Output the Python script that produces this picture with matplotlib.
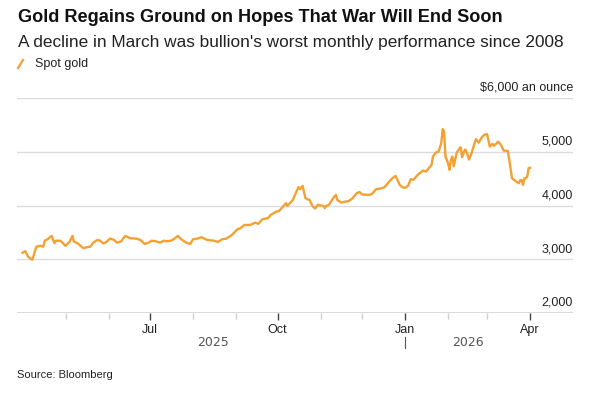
import numpy as np
import pandas as pd
import matplotlib.pyplot as plt
import matplotlib.dates as mdates
import matplotlib.ticker as mticker
import matplotlib.transforms as mtransforms

plt.rcParams['font.family'] = ['Liberation Sans', 'DejaVu Sans']

# Spot gold, $ per ounce
dates = [
    "2025-03-31", "2025-04-02", "2025-04-04", "2025-04-07", "2025-04-10", "2025-04-13",
    "2025-04-15", "2025-04-16", "2025-04-18", "2025-04-21", "2025-04-23", "2025-04-24",
    "2025-04-27", "2025-04-28", "2025-05-01", "2025-05-04", "2025-05-06", "2025-05-07",
    "2025-05-10", "2025-05-14", "2025-05-16", "2025-05-19", "2025-05-21", "2025-05-24",
    "2025-05-26", "2025-05-28", "2025-05-30", "2025-06-02", "2025-06-05", "2025-06-07",
    "2025-06-10", "2025-06-13", "2025-06-17", "2025-06-21", "2025-06-24", "2025-06-27",
    "2025-06-30", "2025-07-02", "2025-07-05", "2025-07-08", "2025-07-11", "2025-07-13",
    "2025-07-16", "2025-07-18", "2025-07-21", "2025-07-24", "2025-07-27", "2025-07-30",
    "2025-08-01", "2025-08-04", "2025-08-07", "2025-08-11", "2025-08-16", "2025-08-19",
    "2025-08-22", "2025-08-25", "2025-08-29", "2025-09-02", "2025-09-04", "2025-09-07",
    "2025-09-11", "2025-09-15", "2025-09-17", "2025-09-20", "2025-09-24", "2025-09-26",
    "2025-09-30", "2025-10-02", "2025-10-07", "2025-10-08", "2025-10-12", "2025-10-14",
    "2025-10-16", "2025-10-17", "2025-10-19", "2025-10-21", "2025-10-23", "2025-10-24",
    "2025-10-26", "2025-10-28", "2025-10-30", "2025-11-01", "2025-11-03", "2025-11-04",
    "2025-11-05", "2025-11-07", "2025-11-10", "2025-11-12", "2025-11-13", "2025-11-16",
    "2025-11-18", "2025-11-21", "2025-11-23", "2025-11-24", "2025-11-27", "2025-11-29",
    "2025-12-01", "2025-12-06", "2025-12-08", "2025-12-11", "2025-12-15", "2025-12-17",
    "2025-12-19", "2025-12-22", "2025-12-25", "2025-12-28", "2025-12-30", "2026-01-01",
    "2026-01-03", "2026-01-05", "2026-01-07", "2026-01-10", "2026-01-12", "2026-01-14",
    "2026-01-16", "2026-01-18", "2026-01-20", "2026-01-21", "2026-01-23", "2026-01-25",
    "2026-01-27", "2026-01-28", "2026-01-29", "2026-01-30", "2026-01-31", "2026-02-01",
    "2026-02-02", "2026-02-03", "2026-02-04", "2026-02-05", "2026-02-07", "2026-02-08",
    "2026-02-10", "2026-02-11", "2026-02-13", "2026-02-14", "2026-02-16", "2026-02-18",
    "2026-02-20", "2026-02-21", "2026-02-23", "2026-02-25", "2026-02-27", "2026-03-01",
    "2026-03-03", "2026-03-05", "2026-03-06", "2026-03-08", "2026-03-09", "2026-03-11",
    "2026-03-13", "2026-03-16", "2026-03-17", "2026-03-19", "2026-03-22", "2026-03-24",
    "2026-03-25", "2026-03-26", "2026-03-27", "2026-03-28", "2026-03-29", "2026-03-30",
    "2026-03-31", "2026-04-01",
]
prices = [
    3120, 3150, 3048, 2990, 3235, 3250,
    3235, 3345, 3372, 3434, 3298, 3345,
    3345, 3330, 3247, 3330, 3434, 3330,
    3290, 3204, 3222, 3235, 3310, 3360,
    3345, 3298, 3310, 3384, 3360, 3310,
    3330, 3434, 3390, 3384, 3360, 3285,
    3310, 3345, 3335, 3310, 3345, 3335,
    3345, 3372, 3434, 3360, 3310, 3285,
    3372, 3384, 3410, 3360, 3345, 3322,
    3372, 3384, 3452, 3558, 3576, 3638,
    3638, 3682, 3658, 3745, 3764, 3825,
    3886, 3898, 4043, 3993, 4104, 4229,
    4341, 4304, 4365, 4136, 4110, 4104,
    3993, 3943, 4014, 4000, 3993, 3950,
    3993, 4014, 4136, 4197, 4104, 4054,
    4070, 4080, 4115, 4135, 4229, 4250,
    4205, 4197, 4215, 4304, 4320, 4340,
    4402, 4490, 4551, 4384, 4340, 4328,
    4365, 4490, 4480, 4570, 4613, 4650,
    4630, 4695, 4756, 4911, 4985, 5000,
    5160, 5421, 5380, 4911, 4850, 4775,
    4663, 4856, 4911, 4730, 4970, 5022,
    5085, 4900, 5040, 5022, 4856, 4985,
    5160, 5235, 5170, 5260, 5315, 5330,
    5097, 5147, 5110, 5160, 5190, 5130,
    5022, 5015, 4856, 4508, 4445, 4414,
    4476, 4470, 4384, 4508, 4508, 4540,
    4695, 4700,
]

y_ticks = [2000, 3000, 4000, 5000, 6000]
y_labels = ["2,000", "3,000", "4,000", "5,000", "$6,000 an ounce"]
major_months = ["2025-07-01", "2025-10-01", "2026-01-01", "2026-04-01"]
major_labels = ["Jul", "Oct", "Jan", "Apr"]
years = ["2025", "2026"]

title = "Gold Regains Ground on Hopes That War Will End Soon"
subtitle = "A decline in March was bullion's worst monthly performance since 2008"

gold = "#F5A033"
grid_c = "#dcdcdc"

s = pd.Series(prices, index=pd.to_datetime(dates))

fig = plt.figure(figsize=(6.12, 3.97), dpi=100)
W, H = 612, 397
ax = fig.add_axes([17 / W, 1 - 313 / H, (573 - 17) / W, (313 - 98) / H])

ax.plot(s.index, s.values, color=gold, lw=1.7, solid_joinstyle="round", zorder=3)

ax.set_xlim(pd.Timestamp("2025-03-27"), pd.Timestamp("2026-05-02"))
ax.set_ylim(2000, 6000)

for sp in ax.spines.values():
    sp.set_visible(False)

# gridlines + labels sitting above them on the right
ax.set_yticks(y_ticks)
ax.tick_params(axis="y", length=0, labelleft=False)
for v in y_ticks[1:]:
    ax.axhline(v, color=grid_c, lw=1, zorder=1)
ax.axhline(2000, color="#d6d6d6", lw=2, zorder=2)
off = mtransforms.offset_copy(ax.get_yaxis_transform(), fig=fig, y=3, units="points")
for v, lab in zip(y_ticks, y_labels):
    ax.text(1.0, v, lab, transform=off, ha="right", va="bottom",
            fontsize=9, color="#222222")

# x ticks (monthly minor ticks only inside the axis span)
ax.xaxis.set_major_locator(mticker.FixedLocator(mdates.date2num(pd.to_datetime(major_months))))
ax.xaxis.set_major_formatter(mticker.FixedFormatter(major_labels))
minor = pd.date_range("2025-05-01", "2026-03-01", freq="MS")
ax.xaxis.set_minor_locator(mticker.FixedLocator(mdates.date2num(minor)))
ax.tick_params(axis="x", which="major", length=5, width=1, color="#444444",
               labelsize=9, labelcolor="#222222", pad=3)
ax.tick_params(axis="x", which="minor", length=4, width=1, color="#d0d0d0")

# year labels centred in the span of data for each year
yr_tr = mtransforms.blended_transform_factory(ax.transData, fig.transFigure)
for yr in years:
    part = s[s.index.year == int(yr)]
    mid = part.index[0] + (part.index[-1] - part.index[0]) / 2
    ax.text(mid, 1 - 342 / H, yr, transform=yr_tr, ha="center", va="center",
            fontsize=9, color="#555555", family="DejaVu Sans")
ax.plot([pd.Timestamp("2026-01-01")] * 2, [1 - 337 / H, 1 - 348 / H],
        transform=yr_tr, color="#555555", lw=0.8, clip_on=False)

fig.text(18 / W, 1 - 17 / H, title, fontsize=13.1, fontweight="bold",
         color="#111111", va="center", ha="left")
fig.text(18 / W, 1 - 43 / H, subtitle, fontsize=12.4, color="#222222",
         va="center", ha="left")
fig.lines.append(plt.Line2D([18 / W, 23 / W], [1 - 68 / H, 1 - 60 / H],
                            transform=fig.transFigure, color=gold, lw=1.6))
fig.text(35 / W, 1 - 64 / H, "Spot gold", fontsize=9, color="#222222",
         va="center", ha="left")
fig.text(17 / W, 1 - 375 / H, "Source: Bloomberg", fontsize=8, color="#222222",
         va="center", ha="left")

fig.savefig("out.png", dpi=100)
